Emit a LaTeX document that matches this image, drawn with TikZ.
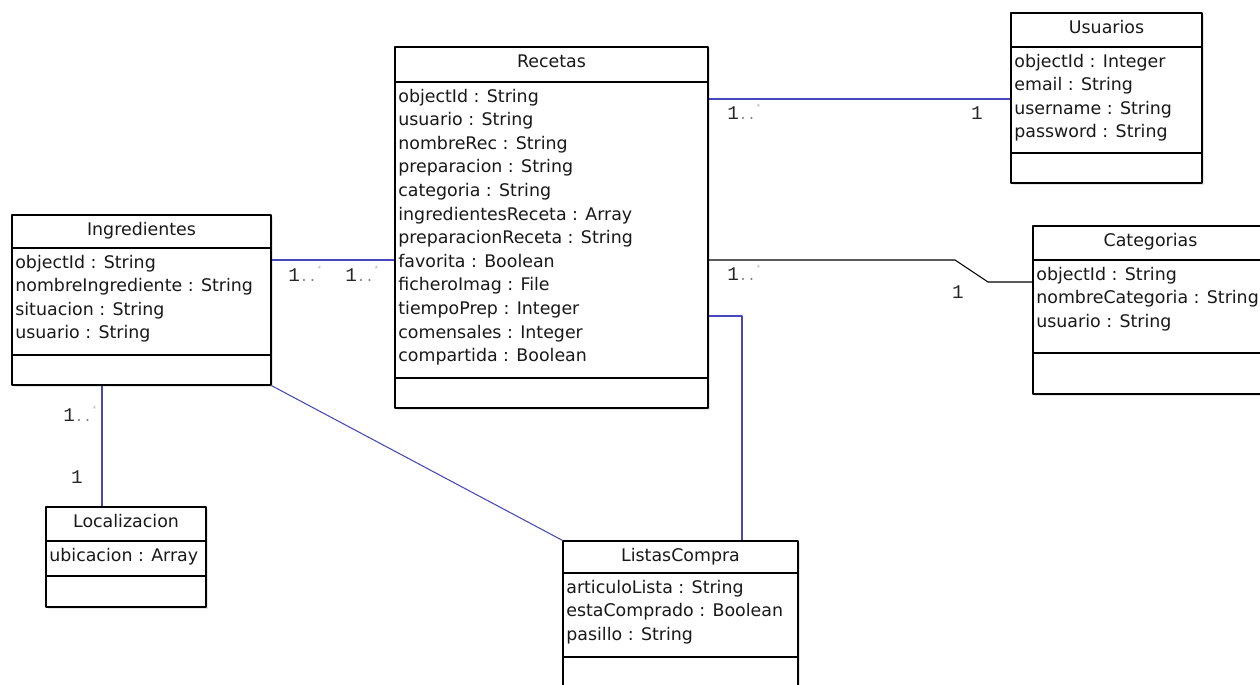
\documentclass[tikz,border=0pt]{standalone}
\usepackage{fontspec}
\setmainfont{DejaVu Sans}
\newfontfamily\multfont{Liberation Mono}
\usetikzlibrary{fit,shadows}

\definecolor{assocblue}{RGB}{70,70,190}
\definecolor{txtgray}{RGB}{25,25,25}

% clase UML: nombre, x1, y1, x2, y2, linea cabecera, linea atributos, titulo, atributos
\newcommand{\umlclass}[9]{%
  \node[classbox, fit={(#2,#3) (#4,#5)}] (#1) {};
  \draw[divider] (#2,#6) -- (#4,#6) (#2,#7) -- (#4,#7);
  \node[classtitle] (#1-title) at ({(#2+#4)/2},#3+20) {#8};
  \foreach \attr [count=\i] in {#9}
    \node[attrib] (#1-a\i) at (#2+3,{#6+20+(\i-1)*23.6}) {\attr};
}
\newcommand{\many}{1{\color{gray}\footnotesize..}\raisebox{0.8ex}{\color{gray!60}\tiny*}}

\begin{document}
\begin{tikzpicture}[x=0.02cm, y=-0.02cm, line join=round,
    classbox/.style={draw=black, line width=0.8pt, fill=white, inner sep=0pt,
      drop shadow={shadow xshift=1pt, shadow yshift=-1pt, opacity=0.2}},
    divider/.style={draw=black, line width=0.8pt},
    classtitle/.style={anchor=base, inner sep=0pt, text=txtgray, font=\fontsize{9.9}{12}\selectfont},
    attrib/.style={anchor=base west, inner sep=0pt, text=txtgray, font=\fontsize{9.9}{12}\selectfont},
    assoc/.style={draw=assocblue, line width=0.6pt},
    assocblack/.style={draw=black, line width=0.6pt},
    mult/.style={anchor=base west, inner sep=0pt, text=black!85, font=\multfont\fontsize{11}{12}\selectfont}]
  \useasboundingbox (0,0) rectangle (1260,684);

  % clases
  \umlclass{rec}{395}{47}{708}{408}{82}{378}{Recetas}{objectId : String, usuario : String,
    nombreRec : String, preparacion : String, categoria : String, ingredientesReceta : Array,
    preparacionReceta : String, favorita : Boolean, ficheroImag : File, tiempoPrep : Integer,
    comensales : Integer, compartida : Boolean}
  \umlclass{usu}{1011}{13}{1202}{183}{47}{153}{Usuarios}{objectId : Integer, email : String,
    username : String, password : String}
  \umlclass{cat}{1033}{226}{1268}{394}{260}{353}{Categorias}{objectId : String,
    nombreCategoria : String, usuario : String}
  \umlclass{ing}{12}{215}{271}{385}{248}{355}{Ingredientes}{objectId : String,
    nombreIngrediente : String, situacion : String, usuario : String}
  \umlclass{loc}{46}{507}{206}{607}{541}{576}{Localizacion}{ubicacion : Array}
  \umlclass{lis}{563}{541}{798}{692}{573}{657}{ListasCompra}{articuloLista : String,
    estaComprado : Boolean, pasillo : String}

  % asociaciones
  \coordinate (catA) at (955,260);
  \coordinate (catB) at (988,282);
  \draw[assoc] (rec.east |- 0,99) -- (usu.west |- 0,99);
  \draw[assocblack] (rec.east |- 0,260) -- (catA) -- (catB) -- (cat.west |- 0,282);
  \draw[assoc] (ing.east |- 0,260) -- (rec.west |- 0,260);
  \draw[assoc] (rec.east |- 0,316) -- (742,316) -- (742,0 |- lis.north);
  \draw[assoc] (102,0 |- ing.south) -- (102,0 |- loc.north);
  \draw[assoc] (ing.south east) -- (lis.north west);

  % multiplicidades
  \node[mult] (mU1) at (727,119) {\many};
  \node[mult, anchor=base] (mU2) at (977,119) {1};
  \node[mult] (mC1) at (727,280) {\many};
  \node[mult, anchor=base] (mC2) at (958,298) {1};
  \node[mult] (mI1) at (288,281) {\many};
  \node[mult] (mI2) at (345,281) {\many};
  \node[mult] (mL1) at (63,421) {\many};
  \node[mult, anchor=base] (mL2) at (77,483) {1};
\end{tikzpicture}
\end{document}
